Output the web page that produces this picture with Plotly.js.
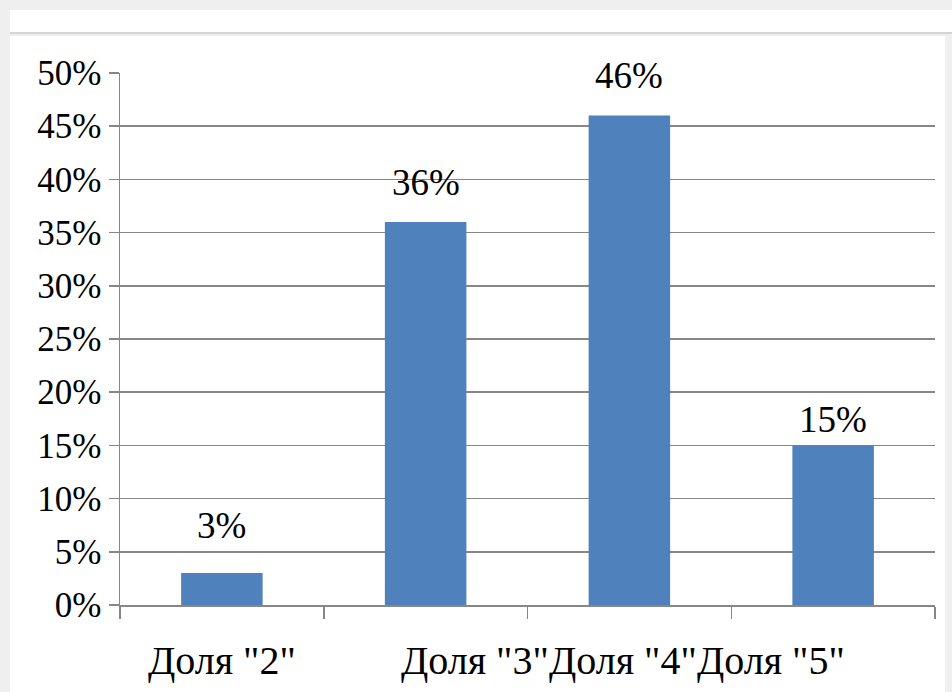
<!DOCTYPE html>
<html>
<head>
<meta charset="utf-8">
<script src="https://cdn.plot.ly/plotly-3.0.1.min.js"></script>
<style>html,body{margin:0;padding:0;background:#fff;}#chart{width:952px;height:692px;}</style>
</head>
<body>
<div id="chart"></div>
<script>
// ---- data ----
const categories = ['Доля "2"', 'Доля "3"', 'Доля "4"', 'Доля "5"'];
const shares = [0.03, 0.36, 0.46, 0.15];
const valueLabels = ['3%', '36%', '46%', '15%'];
const yTickVals = [0, 0.05, 0.10, 0.15, 0.20, 0.25, 0.30, 0.35, 0.40, 0.45, 0.50];
const yTickText = ['0%', '5%', '10%', '15%', '20%', '25%', '30%', '35%', '40%', '45%', '50%'];

// ---- layout constants ----
const W = 952, H = 692;
const L = 120, R = 935, T = 73, B = 605;
const labelOffset = [0, 0.24, -0.03, -0.305];   // category label shift (in category units)
const valueShift = [48, 39, 40, 26];             // px from bar top to label centre
const FONT = 'Liberation Serif';
const FS = 37;
const FSY = 35;
const FSX = 40;
const GRID = '#878787';

const idx = categories.map((_, i) => i);
const px2x = p => (p - L) / (R - L);
const px2y = p => (B - p) / (B - T);

const shapes = [
  {type:'rect', xref:'paper', yref:'paper', x0:px2x(0), x1:px2x(W), y0:px2y(H), y1:px2y(0), fillcolor:'#efefef', line:{width:0}, layer:'below'},
  {type:'rect', xref:'paper', yref:'paper', x0:px2x(10), x1:px2x(945), y0:px2y(H), y1:px2y(10), fillcolor:'#ffffff', line:{width:0}, layer:'below'},
  {type:'rect', xref:'paper', yref:'paper', x0:px2x(10), x1:px2x(W), y0:px2y(10), y1:px2y(33), fillcolor:'#ffffff', line:{width:0}, layer:'below'},
  {type:'line', xref:'paper', yref:'paper', x0:px2x(10), x1:px2x(W), y0:px2y(33), y1:px2y(33), line:{color:'#d4d4d4', width:2}, layer:'below'},
  {type:'line', xref:'paper', yref:'paper', x0:px2x(10), x1:px2x(W), y0:px2y(35), y1:px2y(35), line:{color:'#eeeeee', width:2}, layer:'below'}
];

const annotations = [];
idx.forEach(i => {
  annotations.push({
    x: i, y: shares[i], xref:'x', yref:'y', text: valueLabels[i], showarrow:false,
    yshift: valueShift[i], yanchor:'middle', xanchor:'center',
    font:{family:FONT, size:FS, color:'#000'}
  });
  annotations.push({
    x: i + labelOffset[i], y: 0, xref:'x', yref:'paper', text: categories[i], showarrow:false,
    yanchor:'middle', xanchor:'center', yshift:-55,
    font:{family:FONT, size:FSX, color:'#000'}
  });
});

const trace = {
  type:'bar', x: idx, y: shares, width: 0.4,
  marker:{color:'#4F81BD', line:{width:0}},
  hoverinfo:'none'
};

const layout = {
  width: W, height: H,
  margin:{l:L, r:W - R, t:T, b:H - B, pad:0},
  paper_bgcolor:'#ffffff', plot_bgcolor:'rgba(0,0,0,0)',
  showlegend:false,
  font:{family:FONT, size:FS, color:'#000'},
  xaxis:{
    range:[-0.5, categories.length - 0.5], showgrid:false, zeroline:false,
    showline:true, linecolor:GRID, linewidth:1.5,
    tickmode:'array', tickvals: idx.map(i => i - 0.5).concat([categories.length - 0.5]),
    ticks:'outside', ticklen:12, tickcolor:GRID, tickwidth:1.5, showticklabels:false,
    fixedrange:true
  },
  yaxis:{
    range:[0, 0.5], tickmode:'array', tickvals:yTickVals, ticktext:yTickText,
    showgrid:true, gridcolor:GRID, gridwidth:1.5, zeroline:false,
    showline:true, linecolor:GRID, linewidth:1.5,
    ticks:'outside', ticklen:10, tickcolor:GRID, tickwidth:1.5,
    tickfont:{family:FONT, size:FSY, color:'#000'}, fixedrange:true
  },
  shapes: shapes,
  annotations: annotations
};

Plotly.newPlot('chart', [trace], layout, {displayModeBar:false, staticPlot:true});
</script>
</body>
</html>
